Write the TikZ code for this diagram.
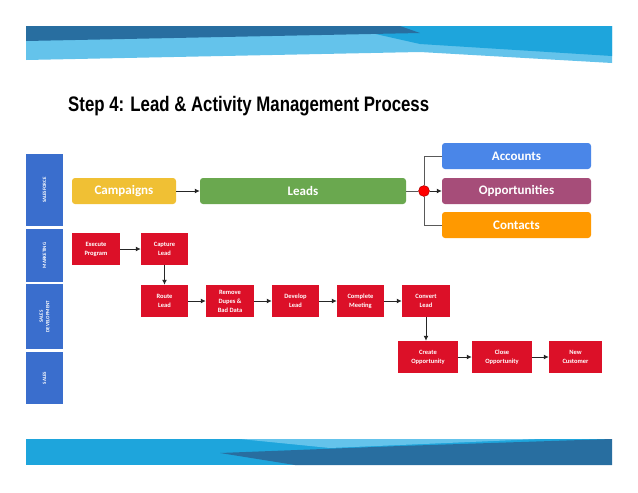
\documentclass[tikz,border=0pt]{standalone}
\usepackage{fontspec}
\setmainfont{Carlito}
\newfontfamily\titlefont{Liberation Sans}
\usetikzlibrary{arrows.meta}
\begin{document}
\begin{tikzpicture}[x=1pt,y=-1pt,
    lane/.style={fill=lanecol, text=white, font=\fontsize{5}{5.5}\selectfont\bfseries, align=center, inner sep=0pt},
    objbox/.style={rounded corners=3pt, text=white, font=\fontsize{13}{15}\selectfont\bfseries, inner sep=0pt},
    stepbox/.style={fill=stepred, text=white, font=\fontsize{6.5}{9}\selectfont\bfseries, align=center, inner sep=0pt},
    flow/.style={draw=gray!30!black, line width=1pt, -{Latex[length=5pt,width=5pt]}},
    tie/.style={draw=gray!70!black, line width=1pt}]

    % Colors
    \definecolor{lanecol}{RGB}{58,110,205}
    \definecolor{stepred}{RGB}{220,16,40}
    \definecolor{campcol}{RGB}{240,192,52}
    \definecolor{leadcol}{RGB}{106,168,79}
    \definecolor{acctcol}{RGB}{74,134,232}
    \definecolor{oppcol}{RGB}{166,77,121}
    \definecolor{contcol}{RGB}{255,153,0}
    \definecolor{bandA}{RGB}{40,110,160}
    \definecolor{bandB}{RGB}{30,165,220}
    \definecolor{bandC}{RGB}{100,195,235}

    \useasboundingbox[fill=white] (0,0) rectangle (638,493);

    % Top band
    \fill[bandC] (26,26) -- (612,26) -- (612,63) -- (420,52) -- (26,60) -- cycle;
    \fill[bandB] (340,26) -- (612,26) -- (612,56) -- (420,44) -- cycle;
    \fill[bandA] (26,26) -- (400,26) -- (420,33) -- (26,41) -- cycle;

    % Bottom band
    \fill[bandB] (26,439) rectangle (612,465);
    \fill[bandC] (240,439) -- (540,439) -- (330,448) -- cycle;
    \fill[bandA] (220,453) -- (400,446) -- (612,439) -- (612,465) -- (295,465) -- cycle;

    % Title
    \node[anchor=west, font=\fontsize{21}{24}\selectfont\bfseries\titlefont, inner sep=0pt] (title) at (68,106)
        {\scalebox{0.8}[1]{Step 4: Lead \& Activity Management Process}};

    % Lanes
    \node[lane, minimum width=37pt, minimum height=72pt] (l1) at (44.5,190) {\rotatebox{90}{SALESFORCE}};
    \node[lane, minimum width=37pt, minimum height=53pt] (l2) at (44.5,255.5) {\rotatebox{90}{MARKETING}};
    \node[lane, minimum width=37pt, minimum height=65pt] (l3) at (44.5,316.5) {\rotatebox{90}{\shortstack{SALES\\DEVELOPMENT}}};
    \node[lane, minimum width=37pt, minimum height=52pt] (l4) at (44.5,378) {\rotatebox{90}{SALES}};

    % Objects
    \node[objbox, fill=campcol, minimum width=104pt, minimum height=26pt] (camp) at (124,191) {Campaigns};
    \node[objbox, fill=leadcol, minimum width=206pt, minimum height=26pt] (leads) at (303,191) {Leads};
    \node[objbox, fill=acctcol, minimum width=149pt, minimum height=26pt] (acct) at (516.5,156) {Accounts};
    \node[objbox, fill=oppcol, minimum width=149pt, minimum height=26pt] (opp) at (516.5,191) {Opportunities};
    \node[objbox, fill=contcol, minimum width=149pt, minimum height=26pt] (cont) at (516.5,225) {Contacts};
    \node[circle, fill=red, draw=red!60!black, minimum size=11pt, inner sep=0pt] (hub) at (424,191) {};

    \draw[flow] (camp) -- (leads);
    \draw[tie] (leads) -- (hub);
    \draw[flow] (hub) -- (opp);
    \draw[tie] (hub.north) |- (acct.west);
    \draw[tie] (hub.south) |- (cont.west);

    % Steps
    \node[stepbox, minimum width=48pt, minimum height=32pt] (exec) at (96,249) {Execute\\Program};
    \node[stepbox, minimum width=47pt, minimum height=32pt] (capt) at (164.5,249) {Capture\\Lead};
    \node[stepbox, minimum width=47pt, minimum height=32pt] (route) at (164.5,301) {Route\\Lead};
    \node[stepbox, minimum width=48pt, minimum height=32pt] (dupes) at (230,301) {Remove\\Dupes \&\\Bad Data};
    \node[stepbox, minimum width=47pt, minimum height=32pt] (dev) at (295.5,301) {Develop\\Lead};
    \node[stepbox, minimum width=47pt, minimum height=32pt] (meet) at (360.5,301) {Complete\\Meeting};
    \node[stepbox, minimum width=48pt, minimum height=32pt] (conv) at (426,301) {Convert\\Lead};
    \node[stepbox, minimum width=60pt, minimum height=32pt] (create) at (428,357) {Create\\Opportunity};
    \node[stepbox, minimum width=60pt, minimum height=32pt] (close) at (502,357) {Close\\Opportunity};
    \node[stepbox, minimum width=53pt, minimum height=32pt] (cust) at (575.5,357) {New\\Customer};

    \draw[flow] (exec) -- (capt);
    \draw[flow] (capt) -- (route);
    \draw[flow] (route) -- (dupes);
    \draw[flow] (dupes) -- (dev);
    \draw[flow] (dev) -- (meet);
    \draw[flow] (meet) -- (conv);
    \draw[flow] (conv.south) -- (conv.south |- create.north);
    \draw[flow] (create) -- (close);
    \draw[flow] (close) -- (cust);

\end{tikzpicture}
\end{document}
